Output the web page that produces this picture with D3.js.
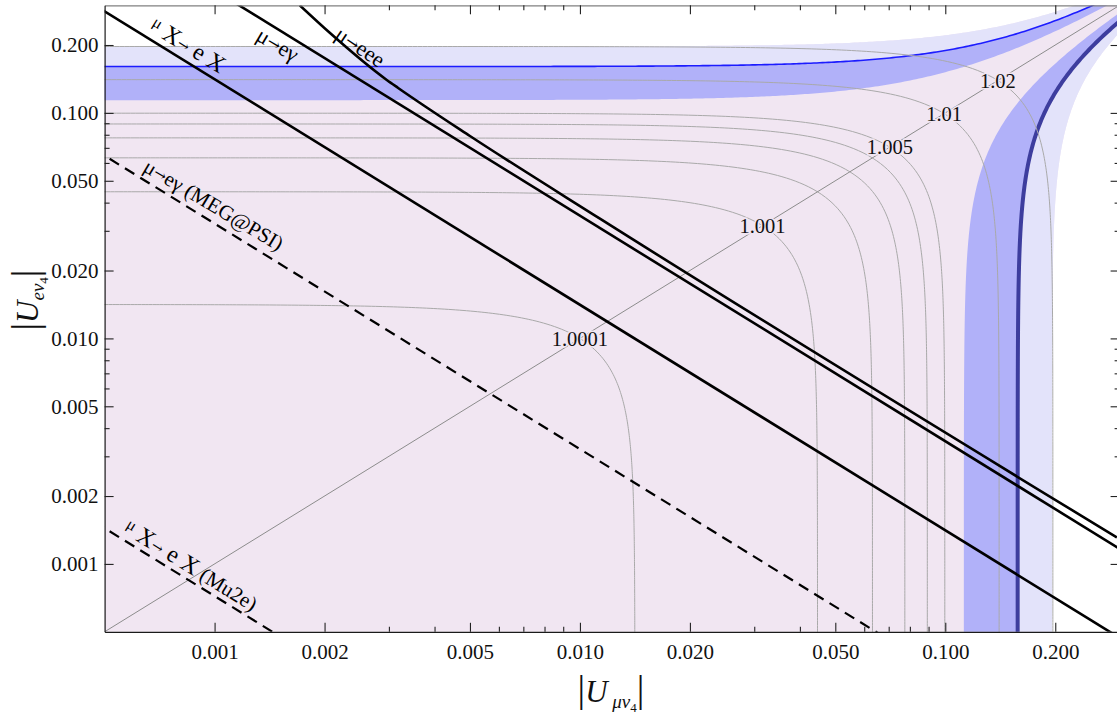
<!DOCTYPE html>
<html><head><meta charset="utf-8">
<script src="https://cdn.jsdelivr.net/npm/d3@7"></script>
<style>
body{margin:0;background:#fff;}
svg{display:block;font-family:"Liberation Serif","Times New Roman",serif;}
</style></head><body>
<svg id="chart" width="1117" height="715"></svg>
<script>
// ---- tick values ----
const majorTicks = [0.001, 0.002, 0.005, 0.01, 0.02, 0.05, 0.1, 0.2];
const minorTicks = [0.003, 0.004, 0.006, 0.007, 0.008, 0.009, 0.03, 0.04, 0.06, 0.07, 0.08, 0.09];

// ---- contours of 1/sqrt(1-|Ue|^2-|Umu|^2): level and radius where it meets the axes ----
const contourLevels = [1.0001, 1.001, 1.002, 1.003, 1.004, 1.005, 1.01, 1.02];
const contourRadii  = [0.01414, 0.0447, 0.0632, 0.0775, 0.0893, 0.0997, 0.1404, 0.197];
const labelledLevels = [1.0001, 1.001, 1.005, 1.01, 1.02];

// ---- bands: asymptotic edges [inner, central, outer] ----
const bandEdgesE  = [0.1139, 0.1605, 0.197];   // |Ue|^2 - |Umu|^2 = e^2
const bandEdgesMu = [0.1124, 0.1578, 0.1959];  // |Umu|^2 - |Ue|^2 = e^2

// ---- straight limits |Ue|*|Umu| = k ----
const limitNames    = ["muXeX", "mueg", "MEG", "Mu2e"];
const limitProducts = [1.41e-4, 3.5e-4, 3.23e-5, 7.2e-7];
const limitDashed   = [false, false, true, true];

// ---- mu -> eee limit ----
const eeeMu = [0.00171, 0.00207, 0.00296, 0.00318, 0.0050, 0.0114, 0.295];
const eeeE  = [0.300,   0.226,   0.140,   0.129,   0.0790, 0.0338, 0.00131];

const svg = d3.select("#chart");
const x = d3.scaleLog().domain([0.0005, 0.3]).range([104.6, 1119.6]);
const y = d3.scaleLog().domain([0.0005, 0.3]).range([631.8, 5.3]);
const [x0, x1] = x.range();
const [y0, y1] = y.range();

svg.append("defs").append("clipPath").attr("id", "plotArea")
  .append("rect").attr("x", x0).attr("y", y1).attr("width", x1 - x0).attr("height", y0 - y1);
const plot = svg.append("g").attr("clip-path", "url(#plotArea)");

const line = d3.line().x(d => x(d[0])).y(d => y(d[1]));
const logSpace = (a, b, n) => d3.range(n + 1).map(i => a * Math.pow(b / a, i / n));
const hEdge = e => logSpace(1e-4, 1, 500).map(m => [m, Math.sqrt(e * e + m * m)]);
const vEdge = e => logSpace(1e-4, 1, 500).map(u => [Math.sqrt(e * e + u * u), u]);

// allowed region
const pinkPts = [[1e-4, 1e-4]].concat(hEdge(bandEdgesE[2]), vEdge(bandEdgesMu[2]).reverse());
plot.append("path").attr("d", line(pinkPts) + "Z").attr("fill", "#f1e6f2");

// bands
function band(edge, a, b, fill) {
  const pts = edge(a).concat(edge(b).reverse());
  plot.append("path").attr("d", line(pts) + "Z").attr("fill", fill);
}
band(hEdge, bandEdgesE[0], bandEdgesE[1], "#b1b1f9");
band(hEdge, bandEdgesE[1], bandEdgesE[2], "#e3e3fa");
band(vEdge, bandEdgesMu[0], bandEdgesMu[1], "#b1b1f9");
band(vEdge, bandEdgesMu[1], bandEdgesMu[2], "#e3e3fa");

plot.append("path").attr("d", line(hEdge(bandEdgesE[1]))).attr("fill", "none")
  .attr("stroke", "#1c1cff").attr("stroke-width", 1.6);
plot.append("path").attr("d", line(vEdge(bandEdgesMu[1]))).attr("fill", "none")
  .attr("stroke", "#3d3d9e").attr("stroke-width", 4);

// contours (quarter circles)
contourRadii.forEach(R => {
  const c = R / Math.SQRT2;
  const pts = logSpace(1e-5, c, 300).map(m => [m, Math.sqrt(R * R - m * m)])
    .concat(logSpace(c, 1e-5, 300).map(u => [Math.sqrt(R * R - u * u), u]));
  plot.append("path").attr("d", line(pts)).attr("fill", "none")
    .attr("stroke", "#a9a9a9").attr("stroke-width", 1);
});

// diagonal |Ue| = |Umu|
plot.append("path").attr("d", line([[1e-4, 1e-4], [1, 1]])).attr("fill", "none")
  .attr("stroke", "#8c8c8c").attr("stroke-width", 1);

// contour labels on the diagonal
labelledLevels.forEach(lv => {
  const R = contourRadii[contourLevels.indexOf(lv)];
  const c = R / Math.SQRT2;
  plot.append("text").attr("x", x(c)).attr("y", y(c)).attr("dy", "0.35em")
    .attr("text-anchor", "middle").attr("font-size", 20.5)
    .attr("fill", "#111").attr("stroke", "#f1e6f2").attr("stroke-width", 3)
    .attr("paint-order", "stroke").text(String(lv));
});

// limit lines
limitProducts.forEach((k, i) => {
  plot.append("path").attr("d", line([[1e-4, k / 1e-4], [1, k]])).attr("fill", "none")
    .attr("stroke", "#000").attr("stroke-width", limitDashed[i] ? 2.2 : 2.6)
    .attr("stroke-dasharray", limitDashed[i] ? "11,7" : null);
});
plot.append("path").attr("d", d3.line().x(d => x(d[0])).y(d => y(d[1])).curve(d3.curveMonotoneX)(eeeMu.map((m, i) => [m, eeeE[i]])))
  .attr("fill", "none").attr("stroke", "#000").attr("stroke-width", 2.6);

// line labels
const ang = 31.66;
function label(cx, cy, rot, parts) {
  const t = plot.append("text").attr("transform", `translate(${cx},${cy}) rotate(${rot})`)
    .attr("text-anchor", "middle").attr("fill", "#000");
  parts.forEach(p => {
    const s = t.append("tspan").attr("font-size", p[1]).attr("dy", p[2] || 0).text(p[0]);
    if (p[0] === "→") s.attr("font-family", "'DejaVu Serif',serif");
  });
}
label(184, 52, ang, [["μ", 16, -6], [" X", 24, 6], ["→", 14, -1], [" e X", 24, 1]]);
label(274, 51, ang - 1, [["μ", 22], ["→", 16, -1], ["eγ", 22, 1]]);
label(356, 53, 34, [["μ", 22], ["→", 16, -1], ["eee", 22, 1]]);
label(210, 211, ang - 1, [["μ", 21], ["→", 15, -1], ["eγ (MEG@PSI)", 21, 1]]);
label(187, 572, ang, [["μ", 16, -6], [" X", 24, 6], ["→", 14, -1], [" e X", 24, 1], [" (Mu2e)", 21]]);

// axes and frame
const fmt = d3.format(".3f");
function styleAxis(g, col) {
  g.select(".domain").attr("stroke", col).attr("stroke-width", 1.2);
  g.selectAll(".tick line").attr("stroke", "#222").attr("stroke-width", 1.1);
  g.selectAll(".tick text").attr("font-size", 21).attr("fill", "#111")
    .attr("font-family", "'Liberation Serif','Times New Roman',serif");
}
const gB = svg.append("g").attr("transform", `translate(0,${y0})`)
  .call(d3.axisBottom(x).tickValues(majorTicks).tickSize(-9).tickSizeOuter(0).tickPadding(12).tickFormat(fmt));
styleAxis(gB, "#1a1a1a");
const gBm = svg.append("g").attr("transform", `translate(0,${y0})`)
  .call(d3.axisBottom(x).tickValues(minorTicks).tickSize(-5).tickFormat(""));
gBm.select(".domain").remove(); styleAxis(gBm, "#1a1a1a");

const gT = svg.append("g").attr("transform", `translate(0,${y1})`)
  .call(d3.axisTop(x).tickValues(majorTicks).tickSize(-9).tickSizeOuter(0).tickFormat(""));
styleAxis(gT, "#808080");
const gTm = svg.append("g").attr("transform", `translate(0,${y1})`)
  .call(d3.axisTop(x).tickValues(minorTicks).tickSize(-5).tickFormat(""));
gTm.select(".domain").remove(); styleAxis(gTm, "#808080");

const gL = svg.append("g").attr("transform", `translate(${x0},0)`)
  .call(d3.axisLeft(y).tickValues(majorTicks).tickSize(-9).tickSizeOuter(0).tickPadding(6).tickFormat(fmt));
styleAxis(gL, "#1a1a1a");
const gLm = svg.append("g").attr("transform", `translate(${x0},0)`)
  .call(d3.axisLeft(y).tickValues(minorTicks).tickSize(-5).tickFormat(""));
gLm.select(".domain").remove(); styleAxis(gLm, "#1a1a1a");

const gR = svg.append("g").attr("transform", `translate(${x1},0)`)
  .call(d3.axisRight(y).tickValues(majorTicks).tickSize(-9).tickSizeOuter(0).tickFormat(""));
styleAxis(gR, "#808080");
const gRm = svg.append("g").attr("transform", `translate(${x1},0)`)
  .call(d3.axisRight(y).tickValues(minorTicks).tickSize(-5).tickFormat(""));
gRm.select(".domain").remove(); styleAxis(gRm, "#808080");

// axis titles
function title(tx, ty, rot, sub) {
  const t = svg.append("text").attr("transform", `translate(${tx},${ty}) rotate(${rot})`)
    .attr("text-anchor", "middle").attr("fill", "#111");
  t.append("tspan").attr("font-size", 38).text("|");
  t.append("tspan").attr("font-size", 31).attr("font-style", "italic").text("U");
  t.append("tspan").attr("font-size", 19).attr("font-style", "italic").attr("dy", 6).text(sub);
  t.append("tspan").attr("font-size", 13).attr("dy", 4).text("4");
  t.append("tspan").attr("font-size", 38).attr("dy", -10).text("|");
}
title(611, 702, 0, " μν");
title(38, 300, -90, "eν");
</script>
</body></html>
